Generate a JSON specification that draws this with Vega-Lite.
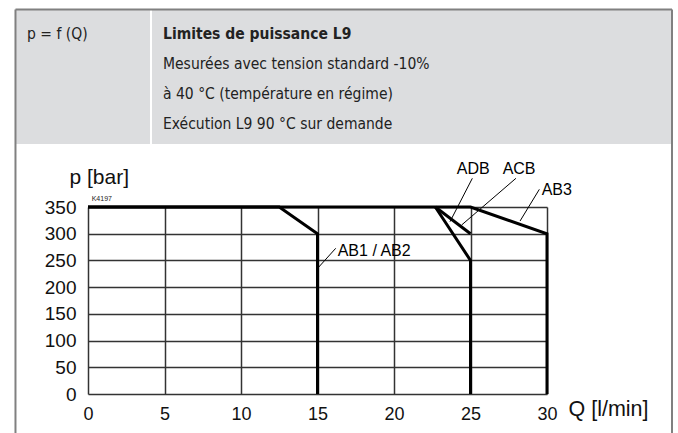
{
  "$schema": "https://vega.github.io/schema/vega-lite/v6.json",
  "autosize": {"type": "none"},
  "width": 459,
  "height": 187,
  "padding": {"left": 88, "top": 207, "right": 131, "bottom": 39},
  "background": "white",
  "config": {
    "font": "Liberation Sans",
    "view": {"stroke": null},
    "axis": {
      "labelColor": "#111", "titleColor": "#111",
      "grid": true, "gridColor": "#333333", "gridWidth": 1.5, "gridOpacity": 1,
      "domain": false, "ticks": false, "tickSize": 0,
      "labelFlush": false, "labelOverlap": false,
      "titleFontWeight": "normal", "titleAngle": 0, "titleAlign": "left", "titleBaseline": "middle"
    },
    "axisX": {"labelFontSize": 18, "labelPadding": 11, "titleFontSize": 21.5, "titleX": 480, "titleY": 15.5},
    "axisY": {"labelFontSize": 19, "labelPadding": 12, "titleFontSize": 21, "titleX": -19, "titleY": -30}
  },
  "datasets": {
    "curves": [
      {"s": "AB1/AB2", "i": 0, "Q": 0, "p": 350},
      {"s": "AB1/AB2", "i": 1, "Q": 12.5, "p": 350},
      {"s": "AB1/AB2", "i": 2, "Q": 15, "p": 300},
      {"s": "AB1/AB2", "i": 3, "Q": 15, "p": 0},
      {"s": "ADB", "i": 0, "Q": 22.7, "p": 350},
      {"s": "ADB", "i": 1, "Q": 25, "p": 250},
      {"s": "ADB", "i": 2, "Q": 25, "p": 0},
      {"s": "ACB", "i": 0, "Q": 22.7, "p": 350},
      {"s": "ACB", "i": 1, "Q": 25, "p": 300},
      {"s": "AB3", "i": 0, "Q": 0, "p": 350},
      {"s": "AB3", "i": 1, "Q": 25, "p": 350},
      {"s": "AB3", "i": 2, "Q": 30, "p": 300},
      {"s": "AB3", "i": 3, "Q": 30, "p": 0}
    ],
    "labels": [
      {"t": "AB1 / AB2", "x1": 15.01, "y1": 235.3, "x2": 16.19, "y2": 272.7, "tx": 16.32, "ty": 268.2},
      {"t": "ADB", "x1": 23.66, "y1": 322.5, "x2": 25.12, "y2": 403.7, "tx": 24.1, "ty": 420.6},
      {"t": "ACB", "x1": 24.42, "y1": 316.3, "x2": 27.97, "y2": 403.7, "tx": 27.1, "ty": 420.6},
      {"t": "AB3", "x1": 28.24, "y1": 323.8, "x2": 29.5, "y2": 383.1, "tx": 29.65, "ty": 381.8}
    ],
    "one": [{}]
  },
  "layer": [
    {
      "data": {"name": "curves"},
      "mark": {"type": "line", "color": "#000", "strokeWidth": 3, "strokeJoin": "miter"},
      "encoding": {
        "x": {
          "field": "Q", "type": "quantitative",
          "scale": {"domain": [0, 30], "nice": false, "zero": false},
          "axis": {"values": [0, 5, 10, 15, 20, 25, 30], "title": "Q [l/min]"}
        },
        "y": {
          "field": "p", "type": "quantitative",
          "scale": {"domain": [0, 350], "nice": false, "zero": false},
          "axis": {"values": [0, 50, 100, 150, 200, 250, 300, 350], "title": "p [bar]"}
        },
        "detail": {"field": "s"},
        "order": {"field": "i"}
      }
    },
    {
      "data": {"name": "one"},
      "mark": {"type": "rect", "color": "#dcdddf"},
      "encoding": {
        "x": {"datum": -4.706, "axis": {"values": [0, 5, 10, 15, 20, 25, 30], "title": "Q [l/min]"}}, "x2": {"datum": 38.1},
        "y": {"datum": 718.7, "axis": {"values": [0, 50, 100, 150, 200, 250, 300, 350], "title": "p [bar]"}}, "y2": {"datum": 467.9}
      }
    },
    {
      "data": {"name": "one"},
      "mark": {"type": "rule", "color": "#ffffff", "strokeWidth": 2},
      "encoding": {
        "x": {"datum": 4.118, "axis": {"values": [0, 5, 10, 15, 20, 25, 30], "title": "Q [l/min]"}},
        "y": {"datum": 718.7, "axis": {"values": [0, 50, 100, 150, 200, 250, 300, 350], "title": "p [bar]"}}, "y2": {"datum": 467.9}
      }
    },
    {
      "data": {"name": "one"},
      "mark": {"type": "rule", "color": "#808080", "strokeWidth": 2},
      "encoding": {
        "x": {"datum": -4.74, "axis": {"values": [0, 5, 10, 15, 20, 25, 30], "title": "Q [l/min]"}},
        "y": {"datum": 719.6, "axis": {"values": [0, 50, 100, 150, 200, 250, 300, 350], "title": "p [bar]"}}, "y2": {"datum": -80}
      }
    },
    {
      "data": {"name": "one"},
      "mark": {"type": "rule", "color": "#808080", "strokeWidth": 2},
      "encoding": {
        "x": {"datum": 38.17, "axis": {"values": [0, 5, 10, 15, 20, 25, 30], "title": "Q [l/min]"}},
        "y": {"datum": 719.6, "axis": {"values": [0, 50, 100, 150, 200, 250, 300, 350], "title": "p [bar]"}}, "y2": {"datum": -80}
      }
    },
    {
      "data": {"name": "one"},
      "mark": {"type": "rule", "color": "#808080", "strokeWidth": 2},
      "encoding": {
        "x": {"datum": -4.74, "axis": {"values": [0, 5, 10, 15, 20, 25, 30], "title": "Q [l/min]"}}, "x2": {"datum": 38.17},
        "y": {"datum": 719.6, "axis": {"values": [0, 50, 100, 150, 200, 250, 300, 350], "title": "p [bar]"}}
      }
    },
    {
      "data": {"name": "one"},
      "mark": {"type": "text", "align": "left", "baseline": "middle", "font": "DejaVu Sans Condensed, Liberation Sans", "fontSize": 15.5, "color": "#222"},
      "encoding": {
        "x": {"datum": -3.987, "axis": {"values": [0, 5, 10, 15, 20, 25, 30], "title": "Q [l/min]"}},
        "y": {"datum": 674, "axis": {"values": [0, 50, 100, 150, 200, 250, 300, 350], "title": "p [bar]"}},
        "text": {"value": "p = f (Q)"}
      }
    },
    {
      "data": {"name": "one"},
      "mark": {"type": "text", "align": "left", "baseline": "middle", "font": "DejaVu Sans Condensed, Liberation Sans", "fontSize": 15.5, "fontWeight": "bold", "color": "#222"},
      "encoding": {
        "x": {"datum": 4.902, "axis": {"values": [0, 5, 10, 15, 20, 25, 30], "title": "Q [l/min]"}},
        "y": {"datum": 674, "axis": {"values": [0, 50, 100, 150, 200, 250, 300, 350], "title": "p [bar]"}},
        "text": {"value": "Limites de puissance L9"}
      }
    },
    {
      "data": {"name": "one"},
      "mark": {"type": "text", "align": "left", "baseline": "middle", "font": "DejaVu Sans Condensed, Liberation Sans", "fontSize": 15.5, "color": "#222"},
      "encoding": {
        "x": {"datum": 4.902, "axis": {"values": [0, 5, 10, 15, 20, 25, 30], "title": "Q [l/min]"}},
        "y": {"datum": 617, "axis": {"values": [0, 50, 100, 150, 200, 250, 300, 350], "title": "p [bar]"}},
        "text": {"value": "Mesurées avec tension standard -10%"}
      }
    },
    {
      "data": {"name": "one"},
      "mark": {"type": "text", "align": "left", "baseline": "middle", "font": "DejaVu Sans Condensed, Liberation Sans", "fontSize": 15.5, "color": "#222"},
      "encoding": {
        "x": {"datum": 4.902, "axis": {"values": [0, 5, 10, 15, 20, 25, 30], "title": "Q [l/min]"}},
        "y": {"datum": 561, "axis": {"values": [0, 50, 100, 150, 200, 250, 300, 350], "title": "p [bar]"}},
        "text": {"value": "à 40 °C (température en régime)"}
      }
    },
    {
      "data": {"name": "one"},
      "mark": {"type": "text", "align": "left", "baseline": "middle", "font": "DejaVu Sans Condensed, Liberation Sans", "fontSize": 15.5, "color": "#222"},
      "encoding": {
        "x": {"datum": 4.902, "axis": {"values": [0, 5, 10, 15, 20, 25, 30], "title": "Q [l/min]"}},
        "y": {"datum": 505, "axis": {"values": [0, 50, 100, 150, 200, 250, 300, 350], "title": "p [bar]"}},
        "text": {"value": "Exécution L9 90 °C sur demande"}
      }
    },
    {
      "data": {"name": "one"},
      "mark": {"type": "text", "align": "left", "baseline": "middle", "fontSize": 7, "color": "#222"},
      "encoding": {
        "x": {"datum": 0.24, "axis": {"values": [0, 5, 10, 15, 20, 25, 30], "title": "Q [l/min]"}},
        "y": {"datum": 365, "axis": {"values": [0, 50, 100, 150, 200, 250, 300, 350], "title": "p [bar]"}},
        "text": {"value": "K4197"}
      }
    },
    {
      "data": {"name": "labels"},
      "mark": {"type": "rule", "color": "#000", "strokeWidth": 1},
      "encoding": {
        "x": {"field": "x1", "type": "quantitative", "axis": {"values": [0, 5, 10, 15, 20, 25, 30], "title": "Q [l/min]"}},
        "y": {"field": "y1", "type": "quantitative", "axis": {"values": [0, 50, 100, 150, 200, 250, 300, 350], "title": "p [bar]"}},
        "x2": {"field": "x2"},
        "y2": {"field": "y2"}
      }
    },
    {
      "data": {"name": "labels"},
      "mark": {"type": "text", "align": "left", "baseline": "middle", "fontSize": 16, "color": "#000"},
      "encoding": {
        "x": {"field": "tx", "type": "quantitative", "axis": {"values": [0, 5, 10, 15, 20, 25, 30], "title": "Q [l/min]"}},
        "y": {"field": "ty", "type": "quantitative", "axis": {"values": [0, 50, 100, 150, 200, 250, 300, 350], "title": "p [bar]"}},
        "text": {"field": "t"}
      }
    }
  ]
}
